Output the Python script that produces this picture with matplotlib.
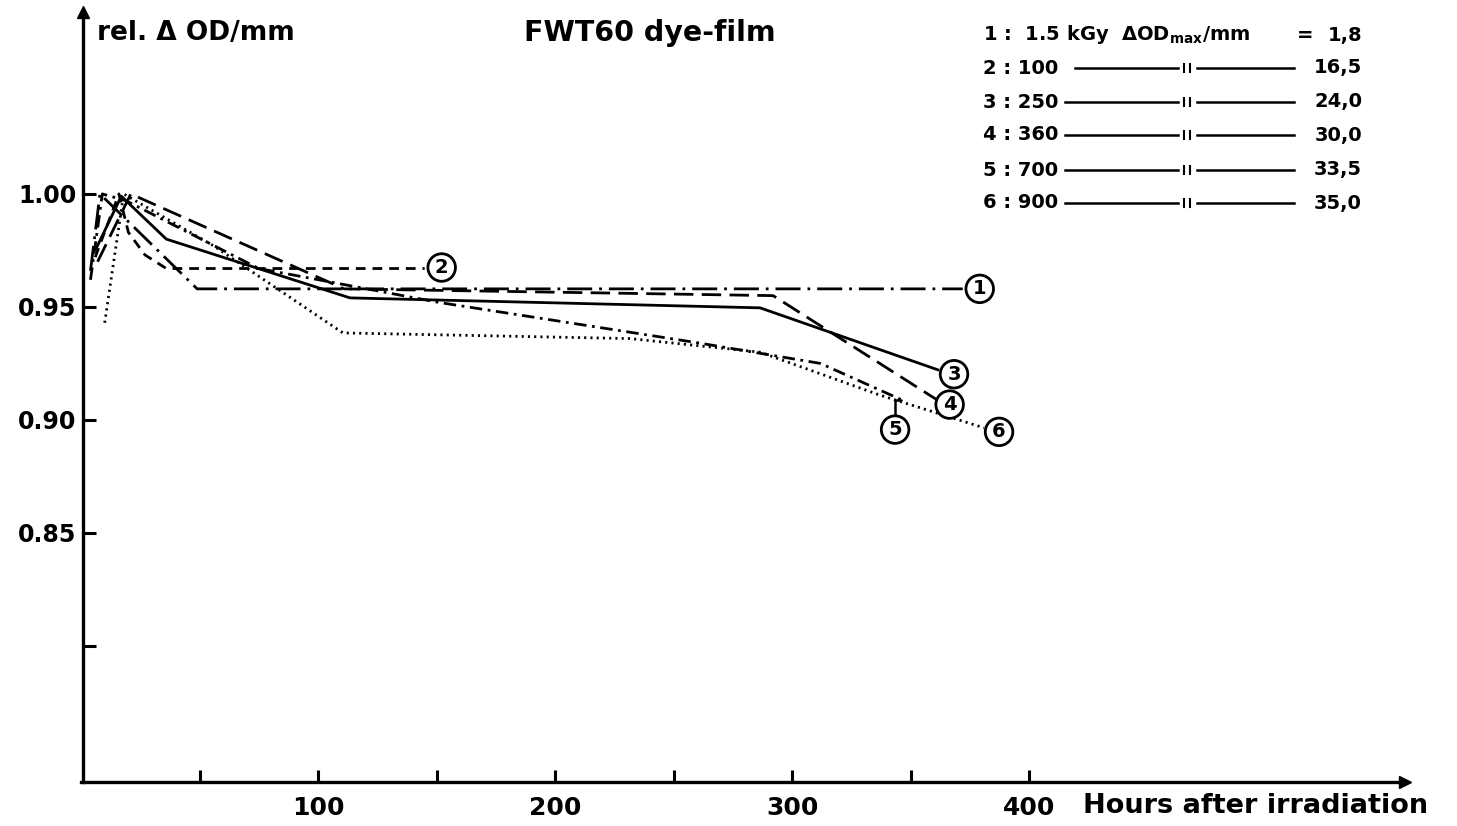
import matplotlib
matplotlib.use("Agg")
import matplotlib.pyplot as plt
from matplotlib.lines import Line2D

plt.rcParams['font.family'] = ['DejaVu Sans']
plt.rcParams['lines.scale_dashes'] = False

# ---- data (hours after irradiation, relative dOD/mm) ----
s1_x = [4, 8, 49, 372]
s1_y = [0.966, 1.000, 0.958, 0.958]
s2_x = [6, 16, 20, 27, 36, 145]
s2_y = [0.972, 1.000, 0.983, 0.973, 0.967, 0.967]
s3_x = [6, 17, 36, 113.5, 286.5, 362]
s3_y = [0.975, 0.999, 0.980, 0.954, 0.9496, 0.922]
s4_x = [7, 21, 111, 292, 361]
s4_y = [0.970, 1.000, 0.958, 0.955, 0.909]
s5_x = [4, 9, 19, 75, 151, 261, 312, 346]
s5_y = [0.962, 1.000, 0.997, 0.967, 0.952, 0.934, 0.925, 0.909]
s6_x = [10, 18, 56, 110.5, 231.6, 286.5, 337, 381]
s6_y = [0.943, 1.000, 0.977, 0.9385, 0.936, 0.930, 0.911, 0.8965]

series_x = [s1_x, s2_x, s3_x, s4_x, s5_x, s6_x]
series_y = [s1_y, s2_y, s3_y, s4_y, s5_y, s6_y]
series_ids = ["1", "2", "3", "4", "5", "6"]

x_ticks = [50, 100, 150, 200, 250, 300, 350, 400]
x_tick_labels = ["", "100", "", "200", "", "300", "", "400"]
y_ticks = [0.80, 0.85, 0.90, 0.95, 1.00]
y_tick_labels = ["", "0.85", "0.90", "0.95", "1.00"]

legend_doses = ["1.5 kGy", "100", "250", "360", "700", "900"]
legend_odmax = ["1,8", "16,5", "24,0", "30,0", "33,5", "35,0"]

# ---- styles ----
styles = [
    (0, (18, 5, 2, 5)),
    (0, (7, 5)),
    '-',
    (0, (14, 6)),
    (0, (9, 4, 2, 4)),
    (0, (1.5, 3)),
]
# label circle offsets (pixels) relative to each series' last point
label_offsets = [(17, 0), (17, 1), (15, -4), (13, -5), (-6, -30), (15, -4)]

W, H = 1457, 826
fig = plt.figure(figsize=(W / 100, H / 100), dpi=100)
ax = fig.add_axes([81 / W, 1 - 782 / H, (1405 - 81) / W, (782 - 12) / H])
ax.set_xlim(0, 558.6)
ax.set_ylim(0.7398, 1.0805)

for sp in ['top', 'right']:
    ax.spines[sp].set_visible(False)
for sp in ['left', 'bottom']:
    ax.spines[sp].set_linewidth(2.4)
ax.spines['left'].set_position(('data', 1))

ax.set_xticks(x_ticks)
ax.set_xticklabels(x_tick_labels)
ax.set_yticks(y_ticks)
ax.set_yticklabels(y_tick_labels)
ax.tick_params(axis='both', direction='in', length=9, width=2.2, labelsize=17)
ax.tick_params(axis='y', pad=5)
ax.tick_params(axis='x', pad=10, labelsize=18)
for lbl in ax.get_xticklabels() + ax.get_yticklabels():
    lbl.set_fontweight('bold')

# arrowheads
ax.plot([1], [1.0805], marker='^', color='black', markersize=8, clip_on=False)
ax.plot([558.6], [0.7398], marker='>', color='black', markersize=8, clip_on=False)

for xs, ys, ls, sid, off in zip(series_x, series_y, styles, series_ids, label_offsets):
    ax.plot(xs, ys, color='black', lw=2.0, linestyle=ls, solid_capstyle='butt')
    arrow = None
    if sid == "5":
        arrow = dict(arrowstyle='-', color='black', lw=1.8, shrinkA=0, shrinkB=0,
                     connectionstyle="angle,angleA=90,angleB=0,rad=0")
    ax.annotate(sid, xy=(xs[-1], ys[-1]), xytext=off, textcoords='offset pixels',
                ha='center', va='center', fontsize=14, fontweight='bold',
                bbox=dict(boxstyle='circle,pad=0.22', fc='white', ec='black', lw=2.0),
                arrowprops=arrow)

# axis texts
fig.text(97 / W, 1 - 33 / H, "rel. Δ OD/mm", fontsize=19, fontweight='bold', ha='left', va='center')
fig.text(650 / W, 1 - 33 / H, "FWT60 dye-film", fontsize=20.5, fontweight='bold', ha='center', va='center')
fig.text(1083 / W, 1 - 806 / H, "Hours after irradiation", fontsize=19.5, fontweight='bold',
         ha='left', va='center')

# legend block
row_y = [35, 68, 102, 135, 170, 203]
for i, (dose, odm, ry) in enumerate(zip(legend_doses, legend_odmax, row_y)):
    yf = 1 - ry / H
    if i == 0:
        fig.text(983 / W, yf, "1 :  1.5 kGy  ΔOD$_{\\mathregular{max}}$/mm", fontsize=14,
                 fontweight='bold', ha='left', va='center')
        fig.text(1305 / W, yf, "=", fontsize=14, fontweight='bold', ha='center', va='center')
    else:
        fig.text(983 / W, yf, f"{i + 1} : {dose}", fontsize=14, fontweight='bold',
                 ha='left', va='center')
        x0 = 1075 if i == 1 else 1065
        fig.add_artist(Line2D([x0 / W, 1178 / W], [yf, yf], color='black', lw=1.8))
        fig.add_artist(Line2D([1197 / W, 1294 / W], [yf, yf], color='black', lw=1.8))
        for tx in (1184, 1190):
            fig.add_artist(Line2D([tx / W, tx / W], [yf - 4 / H, yf + 4 / H], color='black', lw=1.5))
    fig.text(1362 / W, yf, odm, fontsize=14, fontweight='bold', ha='right', va='center')

fig.savefig("out.png", dpi=100)
